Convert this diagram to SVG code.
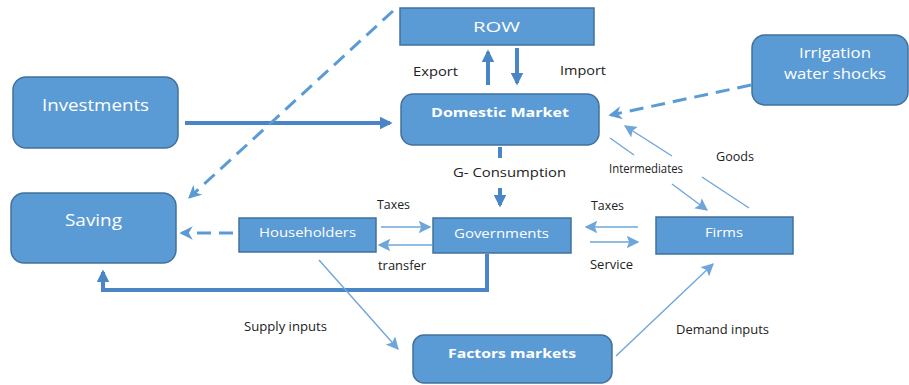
<svg xmlns="http://www.w3.org/2000/svg" width="909" height="385" viewBox="0 0 909 385">
  <style>
    .box { fill: #5b9bd5; stroke: #41719c; stroke-width: 1.5; }
    .lbl { fill: #ffffff; font-family: "Open Sans", "Liberation Sans", sans-serif; text-anchor: middle; }
    .bold { font-weight: bold; }
    .cap { fill: #222222; font-family: "Open Sans", "Liberation Sans", sans-serif; font-size: 12.5px; }
    .thick { fill: none; stroke: #4a86c5; stroke-width: 4; }
    .dash { fill: none; stroke: #5b9bd5; stroke-width: 3; stroke-dasharray: 14 8; }
    .thin { fill: none; stroke: #6fa6da; stroke-width: 1.4; }
  </style>
  <defs>
    <marker id="headThick" viewBox="0 0 10 10" refX="8" refY="5" markerWidth="3.2" markerHeight="3.2" orient="auto" markerUnits="strokeWidth">
      <path d="M0,0 L10,5 L0,10 Z" fill="#4a86c5"/>
    </marker>
    <marker id="headDash" viewBox="0 0 10 10" refX="8" refY="5" markerWidth="4.5" markerHeight="4.5" orient="auto" markerUnits="strokeWidth">
      <path d="M0,0 L10,5 L0,10 L3,5 Z" fill="#5b9bd5"/>
    </marker>
    <marker id="headThin" viewBox="0 0 10 10" refX="9" refY="5" markerWidth="9" markerHeight="9" orient="auto" markerUnits="strokeWidth">
      <path d="M0,0 L10,5 L0,10 L2,5 Z" fill="#6fa6da"/>
    </marker>
  </defs>

  <rect width="909" height="385" fill="#ffffff"/>

  <!-- connectors -->
  <g id="connectors">
    <!-- Export / Import -->
    <path class="thick" d="M488,85 L488,52" marker-end="url(#headThick)"/>
    <path class="thick" d="M517,48 L517,83" marker-end="url(#headThick)"/>
    <!-- Investments to Domestic Market -->
    <path class="thick" d="M185,123 L390,123" marker-end="url(#headThick)"/>
    <!-- G- Consumption -->
    <path class="thick" d="M500,147 L500,158"/>
    <path class="thick" d="M500,188 L500,205" marker-end="url(#headThick)"/>
    <!-- Governments to Saving -->
    <path class="thick" d="M487,254 L487,290 L103,290 L103,272" marker-end="url(#headThick)"/>
    <!-- ROW to Saving -->
    <path class="dash" d="M393,11 L190,197" marker-end="url(#headDash)"/>
    <!-- Householders to Saving -->
    <path class="dash" d="M233,233 L182,233" marker-end="url(#headDash)"/>
    <!-- Irrigation shocks to Domestic Market -->
    <path class="dash" d="M751,85 L611,115" marker-end="url(#headDash)"/>
    <!-- Householders / Governments -->
    <path class="thin" d="M381,227 L430,227" marker-end="url(#headThin)"/>
    <path class="thin" d="M432,245 L379,245" marker-end="url(#headThin)"/>
    <!-- Governments / Firms -->
    <path class="thin" d="M638,227 L586,227" marker-end="url(#headThin)"/>
    <path class="thin" d="M590,242 L638,242" marker-end="url(#headThin)"/>
    <!-- Intermediates: Domestic Market to Firms -->
    <path class="thin" d="M610,138 L634,155"/>
    <path class="thin" d="M672,184 L707,210" marker-end="url(#headThin)"/>
    <!-- Goods: Firms to Domestic Market -->
    <path class="thin" d="M749,208 L702,177"/>
    <path class="thin" d="M672,156 L625,126" marker-end="url(#headThin)"/>
    <!-- Supply inputs -->
    <path class="thin" d="M319,260 L398,349" marker-end="url(#headThin)"/>
    <!-- Demand inputs -->
    <path class="thin" d="M616,356 L713,264" marker-end="url(#headThin)"/>
  </g>

  <!-- connector captions -->
  <g id="captions">
    <text class="cap" x="413" y="76" textLength="45" lengthAdjust="spacingAndGlyphs">Export</text>
    <text class="cap" x="560" y="75" textLength="46" lengthAdjust="spacingAndGlyphs">Import</text>
    <text class="cap" x="453" y="177" font-size="14" textLength="113" lengthAdjust="spacingAndGlyphs">G- Consumption</text>
    <text class="cap" x="377" y="209" textLength="33" lengthAdjust="spacingAndGlyphs">Taxes</text>
    <text class="cap" x="378" y="270" textLength="48" lengthAdjust="spacingAndGlyphs">transfer</text>
    <text class="cap" x="591" y="210" textLength="33" lengthAdjust="spacingAndGlyphs">Taxes</text>
    <text class="cap" x="590" y="269" textLength="43" lengthAdjust="spacingAndGlyphs">Service</text>
    <text class="cap" x="609" y="173" font-size="10.5" textLength="74" lengthAdjust="spacingAndGlyphs">Intermediates</text>
    <text class="cap" x="716" y="161" textLength="38" lengthAdjust="spacingAndGlyphs">Goods</text>
    <text class="cap" x="244" y="331" textLength="83" lengthAdjust="spacingAndGlyphs">Supply inputs</text>
    <text class="cap" x="676" y="334" textLength="93" lengthAdjust="spacingAndGlyphs">Demand inputs</text>
  </g>

  <!-- nodes -->
  <g id="row">
    <rect class="box" x="400" y="8" width="194" height="37"/>
    <text class="lbl" x="496.5" y="32" font-size="15" textLength="47" lengthAdjust="spacingAndGlyphs">ROW</text>
  </g>
  <g id="domestic-market">
    <rect class="box" x="401" y="94" width="198" height="51" rx="12"/>
    <text class="lbl bold" x="500" y="117" font-size="13" textLength="138" lengthAdjust="spacingAndGlyphs">Domestic Market</text>
  </g>
  <g id="investments">
    <rect class="box" x="13" y="77" width="165" height="71" rx="13"/>
    <text class="lbl" x="95.5" y="111" font-size="15.5" textLength="107" lengthAdjust="spacingAndGlyphs">Investments</text>
  </g>
  <g id="irrigation">
    <rect class="box" x="752" y="35" width="156" height="70" rx="13"/>
    <text class="lbl" x="835" y="58" font-size="14" textLength="72" lengthAdjust="spacingAndGlyphs">Irrigation</text>
    <text class="lbl" x="835" y="79" font-size="14" textLength="102" lengthAdjust="spacingAndGlyphs">water shocks</text>
  </g>
  <g id="saving">
    <rect class="box" x="11" y="193" width="165" height="70" rx="13"/>
    <text class="lbl" x="93.5" y="226" font-size="15.5" textLength="57" lengthAdjust="spacingAndGlyphs">Saving</text>
  </g>
  <g id="householders">
    <rect class="box" x="239" y="218" width="137" height="34"/>
    <text class="lbl" x="307.5" y="237" font-size="12.5" textLength="97" lengthAdjust="spacingAndGlyphs">Householders</text>
  </g>
  <g id="governments">
    <rect class="box" x="433" y="218" width="138" height="35"/>
    <text class="lbl" x="501.5" y="238" font-size="12.5" textLength="95" lengthAdjust="spacingAndGlyphs">Governments</text>
  </g>
  <g id="firms">
    <rect class="box" x="656" y="217" width="137" height="37"/>
    <text class="lbl" x="724" y="237" font-size="12.5" textLength="38" lengthAdjust="spacingAndGlyphs">Firms</text>
  </g>
  <g id="factors-markets">
    <rect class="box" x="413" y="335" width="199" height="48" rx="11"/>
    <text class="lbl bold" x="512" y="358" font-size="13" textLength="128" lengthAdjust="spacingAndGlyphs">Factors markets</text>
  </g>
</svg>
